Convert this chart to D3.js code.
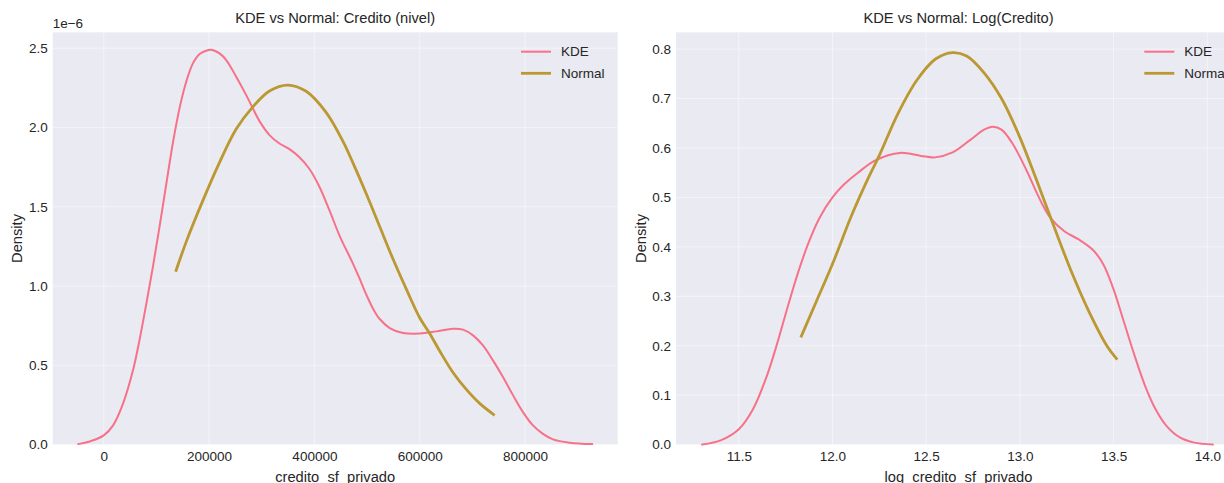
<!DOCTYPE html>
<html>
<head>
<meta charset="utf-8">
<script src="https://cdn.jsdelivr.net/npm/d3@7"></script>
<style>
  html, body { margin: 0; padding: 0; background: #ffffff; }
  svg { display: block; }
  text { font-family: "Liberation Sans", Arial, sans-serif; fill: #262626; }
</style>
</head>
<body>
<svg id="chart" width="1224" height="483"></svg>
<script>
// ---------- DATA ----------
// Left panel: credito_sf_privado (density in units of 1e-6)
const leftKdeX = [-48700,-26500,0,17700,36700,55600,68200,80900,93500,106200,118800,131400,144100,156700,169300,182000,194600,203000,210400,219900,232600,251500,270500,283100,295700,314700,333700,352600,371600,390600,409500,428500,447500,473400,486100,498700,511400,524000,543000,568300,600000,631600,663200,682200,701200,720100,739100,758100,777100,796100,815100,834000,853000,884600,927600];
const leftKdeY = [0.003,0.02,0.058,0.121,0.26,0.47,0.665,0.89,1.125,1.38,1.645,1.905,2.125,2.29,2.404,2.463,2.484,2.49,2.484,2.467,2.425,2.320,2.204,2.120,2.040,1.952,1.899,1.863,1.812,1.738,1.626,1.478,1.320,1.140,1.045,0.945,0.857,0.792,0.735,0.704,0.700,0.714,0.731,0.725,0.689,0.626,0.531,0.426,0.312,0.205,0.121,0.068,0.033,0.012,0.003];
const leftNormX = [136500,156700,188300,219900,251500,283100,314700,349500,384300,422200,453800,473400,498700,524000,549300,574600,600000,619000,638000,663200,688500,713800,742300];
const leftNormY = [1.09,1.28,1.54,1.78,1.99,2.13,2.23,2.267,2.228,2.095,1.915,1.775,1.58,1.375,1.17,0.98,0.80,0.70,0.59,0.455,0.348,0.26,0.185];
const leftXTicks = [0,200000,400000,600000,800000];
const leftYTicks = [0.0,0.5,1.0,1.5,2.0,2.5];

// Right panel: log_credito_sf_privado
const rightKdeX = [11.304,11.406,11.5,11.575,11.650,11.706,11.762,11.818,11.874,11.930,12.0,12.061,12.136,12.229,12.360,12.472,12.547,12.641,12.734,12.809,12.856,12.902,12.959,13.034,13.108,13.164,13.239,13.314,13.389,13.445,13.5,13.557,13.613,13.669,13.725,13.782,13.856,13.931,14.03];
const rightKdeY = [0.0,0.009,0.031,0.071,0.139,0.206,0.280,0.350,0.410,0.458,0.500,0.526,0.550,0.575,0.590,0.584,0.581,0.591,0.616,0.637,0.643,0.637,0.610,0.556,0.495,0.458,0.431,0.415,0.394,0.365,0.314,0.246,0.179,0.118,0.071,0.038,0.014,0.004,0.0];
const rightNormX = [11.831,11.911,12.005,12.098,12.192,12.25,12.35,12.45,12.55,12.641,12.716,12.809,12.902,12.996,13.090,13.183,13.277,13.370,13.464,13.520];
const rightNormY = [0.217,0.287,0.37,0.46,0.54,0.585,0.67,0.737,0.78,0.793,0.786,0.752,0.70,0.625,0.534,0.44,0.348,0.268,0.20,0.172];
const rightXTicks = [11.5,12.0,12.5,13.0,13.5,14.0];
const rightYTicks = [0.0,0.1,0.2,0.3,0.4,0.5,0.6,0.7,0.8];

const seriesNames = ["KDE", "Normal"];
const seriesColors = ["#f77189", "#bb9832"];
const seriesWidths = [2, 2.8];

// ---------- LAYOUT ----------
const svg = d3.select("#chart");
const plotTop = 32.3, plotBottom = 444.6;

const panels = [
  {
    left: 52.7, right: 617.7,
    xDomain: [-97000, 976000], yDomain: [0, 2.6],
    xTicks: leftXTicks, yTicks: leftYTicks,
    xFmt: d3.format("d"), yFmt: d3.format(".1f"),
    title: "KDE vs Normal: Credito (nivel)",
    xlabel: "credito_sf_privado", offset: "1e\u22126",
    kde: leftKdeX.map((x, i) => [x, leftKdeY[i]]),
    norm: leftNormX.map((x, i) => [x, leftNormY[i]])
  },
  {
    left: 676, right: 1241,
    xDomain: [11.165, 14.18], yDomain: [0, 0.834],
    xTicks: rightXTicks, yTicks: rightYTicks,
    xFmt: d3.format(".1f"), yFmt: d3.format(".1f"),
    title: "KDE vs Normal: Log(Credito)",
    xlabel: "log_credito_sf_privado", offset: null,
    kde: rightKdeX.map((x, i) => [x, rightKdeY[i]]),
    norm: rightNormX.map((x, i) => [x, rightNormY[i]])
  }
];

panels.forEach((p, pi) => {
  const x = d3.scaleLinear().domain(p.xDomain).range([p.left, p.right]);
  const y = d3.scaleLinear().domain(p.yDomain).range([plotBottom, plotTop]);
  const g = svg.append("g");

  g.append("rect")
    .attr("x", p.left).attr("y", plotTop)
    .attr("width", p.right - p.left).attr("height", plotBottom - plotTop)
    .attr("fill", "#eaeaf2");

  // grid
  g.append("g").selectAll("line").data(p.xTicks).join("line")
    .attr("x1", d => x(d)).attr("x2", d => x(d))
    .attr("y1", plotTop).attr("y2", plotBottom)
    .attr("stroke", "#ffffff").attr("stroke-opacity", 0.45).attr("stroke-width", 1);
  g.append("g").selectAll("line").data(p.yTicks).join("line")
    .attr("x1", p.left).attr("x2", p.right)
    .attr("y1", d => y(d)).attr("y2", d => y(d))
    .attr("stroke", "#ffffff").attr("stroke-opacity", 0.45).attr("stroke-width", 1);

  // axes (no domain lines, no tick marks — seaborn darkgrid)
  const xAxis = d3.axisBottom(x).tickValues(p.xTicks).tickFormat(p.xFmt).tickSize(0).tickPadding(7);
  const gx = g.append("g").attr("transform", `translate(0,${plotBottom})`).call(xAxis);
  gx.select(".domain").remove();
  gx.selectAll("text").attr("font-size", "13.5px").attr("fill", "#262626")
    .style("font-family", '"Liberation Sans", Arial, sans-serif');

  const yAxis = d3.axisLeft(y).tickValues(p.yTicks).tickFormat(p.yFmt).tickSize(0).tickPadding(5);
  const gy = g.append("g").attr("transform", `translate(${p.left},0)`).call(yAxis);
  gy.select(".domain").remove();
  gy.selectAll("text").attr("font-size", "13.5px").attr("fill", "#262626")
    .style("font-family", '"Liberation Sans", Arial, sans-serif');

  // lines
  const line = d3.line().x(d => x(d[0])).y(d => y(d[1])).curve(d3.curveCatmullRom.alpha(0.5));
  const clipId = "clip" + pi;
  svg.append("clipPath").attr("id", clipId).append("rect")
    .attr("x", p.left).attr("y", plotTop).attr("width", p.right - p.left).attr("height", plotBottom - plotTop + 2);
  const lg = g.append("g").attr("clip-path", `url(#${clipId})`);
  lg.append("path").datum(p.kde).attr("d", line)
    .attr("fill", "none").attr("stroke", seriesColors[0]).attr("stroke-width", seriesWidths[0])
    .attr("stroke-linejoin", "round").attr("stroke-linecap", "round");
  lg.append("path").datum(p.norm).attr("d", line)
    .attr("fill", "none").attr("stroke", seriesColors[1]).attr("stroke-width", seriesWidths[1])
    .attr("stroke-linejoin", "round").attr("stroke-linecap", "butt");

  // title
  g.append("text").attr("x", (p.left + p.right) / 2).attr("y", 23.3)
    .attr("text-anchor", "middle").attr("font-size", "14.7px").text(p.title);

  // x label
  g.append("text").attr("x", (p.left + p.right) / 2).attr("y", 481.5)
    .attr("text-anchor", "middle").attr("font-size", "14.7px").text(p.xlabel);

  // y label
  const ylx = p.left - 30.5;
  g.append("text").attr("transform", `translate(${ylx},${(plotTop + plotBottom) / 2}) rotate(-90)`)
    .attr("text-anchor", "middle").attr("font-size", "14.7px").text("Density");

  // offset text
  if (p.offset) {
    g.append("text").attr("x", p.left).attr("y", 28)
      .attr("font-size", "13.5px").text(p.offset);
  }

  // legend
  const lx = p.right - 96.7;
  seriesNames.forEach((name, i) => {
    const ly = 51.7 + i * 21.6;
    g.append("line").attr("x1", lx).attr("x2", lx + 30).attr("y1", ly).attr("y2", ly)
      .attr("stroke", seriesColors[i]).attr("stroke-width", seriesWidths[i]);
    g.append("text").attr("x", lx + 40).attr("y", ly).attr("dy", "0.35em")
      .attr("font-size", "13.5px").text(name);
  });
});
</script>
</body>
</html>
